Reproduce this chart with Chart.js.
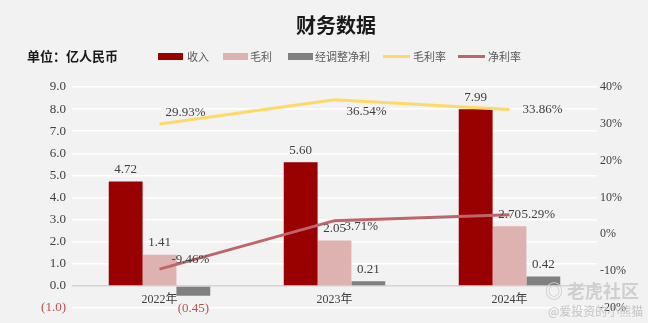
<!DOCTYPE html>
<html>
<head>
<meta charset="utf-8">
<script src="https://cdn.jsdelivr.net/npm/chart.js@4.4.1/dist/chart.umd.min.js"></script>
<style>
    body { margin: 0; background: #f2f2f2; }
    #wrap { position: relative; width: 648px; height: 323px; overflow: hidden; background: #f2f2f2; font-family: "Noto Sans CJK SC", sans-serif; }
    #wrap canvas { position: absolute; left: 0; top: 0; }
    .title { position: absolute; left: 0; width: 672px; top: 10px; text-align: center; font-size: 20px; font-weight: bold; color: #1a1a1a; }
    .unit { position: absolute; left: 27px; top: 46px; font-size: 13px; font-weight: bold; color: #1a1a1a; }
    .lg-box { position: absolute; top: 53px; width: 25px; height: 7px; }
    .lg-line { position: absolute; top: 55px; width: 27px; height: 3px; }
    .lg-text { position: absolute; top: 48px; font-size: 11px; color: #595959; }
    .wm1 { position: absolute; left: 545px; top: 277px; font-size: 18px; color: #cfcfcf; font-weight: bold; }
    .wm2 { position: absolute; left: 548px; top: 302px; font-size: 12px; color: #c4c4c4; }
</style>
</head>
<body>
<div id="wrap">
    <canvas id="financeChart" width="648" height="323"></canvas>
    <div class="title">财务数据</div>
    <div class="unit">单位：亿人民币</div>
    <div class="lg-box" style="left:158px;background:#990000"></div><div class="lg-text" style="left:187px">收入</div>
    <div class="lg-box" style="left:223px;background:#dfb2b2"></div><div class="lg-text" style="left:250px">毛利</div>
    <div class="lg-box" style="left:288px;background:#808080"></div><div class="lg-text" style="left:315px">经调整净利</div>
    <div class="lg-line" style="left:383px;background:#ffd966"></div><div class="lg-text" style="left:413px">毛利率</div>
    <div class="lg-line" style="left:458px;background:#c0646c"></div><div class="lg-text" style="left:488px">净利率</div>
    <div class="wm1">◎ 老虎社区</div>
    <div class="wm2">@爱投资的小熊猫</div>
</div>
<script>
// 财务数据 (亿人民币)
const YEARS = ['2022年', '2023年', '2024年'];
const REVENUE = [4.72, 5.60, 7.99];
const GROSS_PROFIT = [1.41, 2.05, 2.70];
const ADJ_NET_PROFIT = [-0.45, 0.21, 0.42];
const GROSS_MARGIN = [29.93, 36.54, 33.86];   // %
const NET_MARGIN = [-9.46, 3.71, 5.29];       // %
const LEFT_RANGE = [-1, 9];
const RIGHT_RANGE = [-20, 40];

const SERIF = '"Liberation Serif", "Noto Sans CJK SC", serif';
const TEXT_COLOR = '#404040';
const NEG_COLOR = '#c0504d';

// posição dos rótulos das linhas (dx, dy a partir do ponto)
const LINE_LABEL_OFFSETS = {
    gm: [[6, -12], [12, 12], [13, 0]],
    nm: [[12, -10], [10, 6], [12, 0]]
};

const labelPlugin = {
    id: 'valueLabels',
    afterDatasetsDraw(chart) {
        const ctx = chart.ctx;
        ctx.save();
        ctx.font = '13px ' + SERIF;
        ctx.textBaseline = 'middle';
        chart.data.datasets.forEach((ds, i) => {
            const meta = chart.getDatasetMeta(i);
            meta.data.forEach((el, j) => {
                const v = ds.data[j];
                if (ds.type === 'line') {
                    const off = LINE_LABEL_OFFSETS[ds.key][j];
                    ctx.textAlign = 'left';
                    ctx.fillStyle = TEXT_COLOR;
                    ctx.fillText(v.toFixed(2) + '%', el.x + off[0], el.y + off[1]);
                } else {
                    ctx.textAlign = 'center';
                    if (v < 0) {
                        ctx.fillStyle = NEG_COLOR;
                        ctx.fillText('(' + Math.abs(v).toFixed(2) + ')', el.x, el.y + 13);
                    } else {
                        ctx.fillStyle = TEXT_COLOR;
                        ctx.fillText(v.toFixed(2), el.x, el.y - 12);
                    }
                }
            });
        });
        // rótulos das categorias logo abaixo da linha do zero
        const x = chart.scales.x;
        const y0 = chart.scales.yL.getPixelForValue(0);
        ctx.font = '12px ' + SERIF;
        ctx.textAlign = 'center';
        ctx.fillStyle = TEXT_COLOR;
        YEARS.forEach((yr, j) => {
            ctx.fillText(yr, x.getPixelForValue(j), y0 + 14);
        });
        ctx.restore();
    }
};

const ctx = document.getElementById('financeChart').getContext('2d');
new Chart(ctx, {
    data: {
        labels: YEARS,
        datasets: [
            { type: 'line', key: 'gm', label: '毛利率', data: GROSS_MARGIN, yAxisID: 'yR', borderColor: '#ffd966', borderWidth: 3, pointRadius: 0, tension: 0, order: 0 },
            { type: 'line', key: 'nm', label: '净利率', data: NET_MARGIN, yAxisID: 'yR', borderColor: '#c0646c', borderWidth: 3, pointRadius: 0, tension: 0, order: 0 },
            { type: 'bar', label: '收入', data: REVENUE, yAxisID: 'yL', backgroundColor: '#990000', order: 1 },
            { type: 'bar', label: '毛利', data: GROSS_PROFIT, yAxisID: 'yL', backgroundColor: '#dfb2b2', order: 1 },
            { type: 'bar', label: '经调整净利', data: ADJ_NET_PROFIT, yAxisID: 'yL', backgroundColor: '#808080', order: 1 }
        ]
    },
    options: {
        responsive: false,
        animation: false,
        devicePixelRatio: 1,
        layout: { padding: { top: 87, bottom: 15, left: 0, right: 0 } },
        datasets: { bar: { barPercentage: 1, categoryPercentage: 0.58 } },
        plugins: { legend: { display: false }, tooltip: { enabled: false }, title: { display: false } },
        scales: {
            x: { display: false },
            yL: {
                position: 'left',
                min: LEFT_RANGE[0], max: LEFT_RANGE[1],
                afterFit: s => { s.width = 72; },
                border: { display: false },
                grid: {
                    drawTicks: false,
                    color: c => c.tick.value === 0 ? '#d4d4d4' : '#ffffff',
                    lineWidth: 1.5
                },
                ticks: {
                    stepSize: 1,
                    padding: 6,
                    font: { family: SERIF, size: 13 },
                    color: c => c.tick.value < 0 ? NEG_COLOR : TEXT_COLOR,
                    callback: v => v < 0 ? '(' + Math.abs(v).toFixed(1) + ')' : v.toFixed(1)
                }
            },
            yR: {
                position: 'right',
                min: RIGHT_RANGE[0], max: RIGHT_RANGE[1],
                afterFit: s => { s.width = 51; },
                border: { display: false },
                grid: { display: false, drawTicks: false },
                ticks: {
                    stepSize: 10,
                    padding: 3,
                    font: { family: SERIF, size: 12 },
                    color: TEXT_COLOR,
                    callback: v => v + '%'
                }
            }
        }
    },
    plugins: [labelPlugin]
});
</script>
</body>
</html>
